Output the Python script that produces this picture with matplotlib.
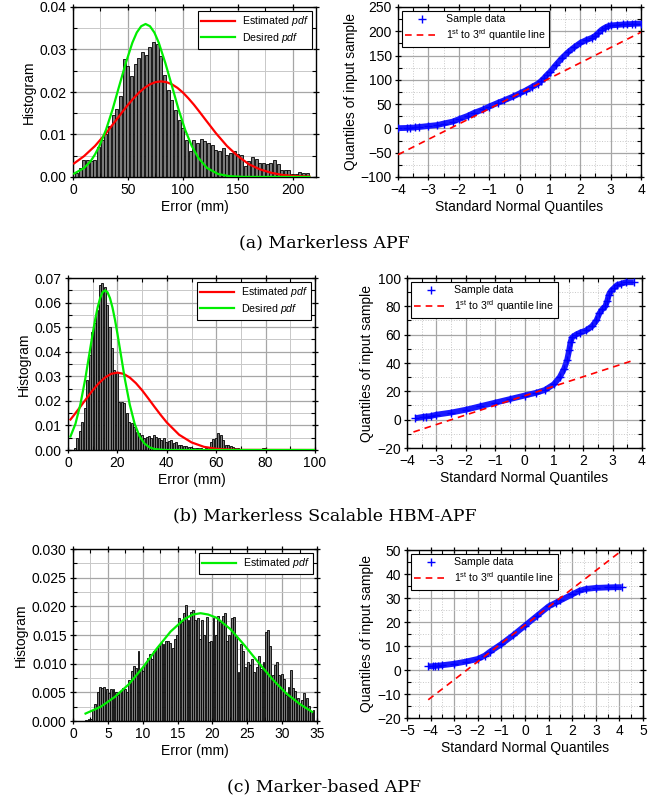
import numpy as np
import matplotlib
matplotlib.use("Agg")
import matplotlib.pyplot as plt
from matplotlib.ticker import MultipleLocator, FormatStrFormatter

plt.rcParams['font.family'] = ['Liberation Sans', 'DejaVu Sans']
plt.rcParams['mathtext.fontset'] = 'custom'
plt.rcParams['mathtext.rm'] = 'Liberation Sans'
plt.rcParams['mathtext.it'] = 'Liberation Sans:italic'

# ---------------- (a) Markerless APF ----------------
hist_a_first, hist_a_bin = 3.3, 3.33
hist_a = [0.001, 0.002, 0.004, 0.004, 0.0038, 0.0039, 0.007, 0.0087, 0.010, 0.012,
          0.0146, 0.016, 0.019, 0.0277, 0.0262, 0.0238, 0.0267, 0.0280, 0.0293, 0.0287,
          0.0306, 0.0318, 0.0314, 0.0284, 0.0240, 0.0205, 0.018, 0.0158, 0.0134, 0.0115,
          0.0087, 0.006, 0.0087, 0.008, 0.0089, 0.0084, 0.008, 0.0076, 0.0064, 0.006,
          0.0068, 0.0052, 0.0056, 0.006, 0.0055, 0.0052, 0.0025, 0.0037, 0.0048, 0.0042,
          0.0034, 0.0033, 0.003, 0.0034, 0.0039, 0.003, 0.0017, 0.0016, 0.0016, 0.0008,
          0.0006, 0.0011, 0.0009, 0.0009]

est_a_x = [1, 10, 20, 30, 40, 45, 50, 55, 60, 65, 70, 75, 80, 85, 90, 95, 100, 105,
           110, 115, 120, 130, 140, 150, 160, 170, 180, 190, 200, 215]
est_a_y = [0.0032, 0.0049, 0.0073, 0.0103, 0.01365, 0.01535, 0.0170, 0.0185, 0.01986,
           0.02097, 0.0218, 0.02232, 0.0225, 0.02232, 0.0218, 0.02097, 0.01986, 0.0185,
           0.0170, 0.01535, 0.01365, 0.0103, 0.0073, 0.0049, 0.0030, 0.0018, 0.0010,
           0.0005, 0.00025, 0.0001]
des_a_x = [1, 10, 16, 20, 24, 30, 36, 42, 48, 54, 58, 62, 66, 70, 74, 78, 84, 90, 96,
           102, 108, 114, 122, 132, 142, 155, 215]
des_a_y = [0.0008, 0.0021, 0.0037, 0.0053, 0.0073, 0.0111, 0.0159, 0.0214, 0.0268,
           0.0316, 0.0340, 0.03548, 0.036, 0.03548, 0.0340, 0.0316, 0.0268, 0.0214,
           0.0159, 0.0111, 0.0073, 0.0045, 0.0021, 0.0007, 0.0002, 0.00003, 0.0]

qq_a_x = [-4.0, -3.72, -3.6, -3.45, -3.3, -3.0, -2.7, -2.5, -2.2, -2.0, -1.7, -1.5, -1.2,
          -1.0, -0.7, -0.5, -0.2, 0.0, 0.2, 0.4, 0.6, 0.7, 0.8, 0.9, 1.0, 1.2, 1.4, 1.6,
          1.8, 2.0, 2.2, 2.4, 2.5, 2.6, 2.7, 2.8, 2.9, 3.0, 3.2, 3.4, 3.55, 3.7, 3.8, 4.0]
qq_a_y = [0.5, 1, 1.5, 2, 3, 5, 7, 10, 14, 19, 26, 32, 39, 45, 53, 58, 66, 72, 78, 85,
          92, 97, 103, 110, 116, 131, 145, 157, 167, 176, 182, 187, 191, 197, 203, 207,
          210, 212, 213, 214, 214.5, 215, 215.5, 216]
qline_a_x = [-4, 4]
qline_a_y = [-54, 198]

# ---------------- (b) Markerless Scalable HBM-APF ----------------
hist_b_first, hist_b_bin = 2.8, 1.0
hist_b = [0.0007, 0.0047, 0.0079, 0.0115, 0.017, 0.0285, 0.0387, 0.048, 0.0515, 0.057,
          0.0671, 0.0678, 0.0665, 0.059, 0.050, 0.0414, 0.0326, 0.0319, 0.0197, 0.0197,
          0.019, 0.0149, 0.0115, 0.011, 0.0095, 0.0075, 0.0068, 0.0061, 0.0048, 0.0054,
          0.0057, 0.0048, 0.0061, 0.0054, 0.0047, 0.004, 0.0047, 0.0033, 0.0035, 0.004,
          0.0028, 0.0033, 0.0022, 0.002, 0.0015, 0.0018, 0.0012, 0.0013, 0.001, 0.0008,
          0.001, 0.0007, 0.0006, 0.0008, 0.0012, 0.0034, 0.0043, 0.005, 0.0068, 0.006,
          0.004, 0.002, 0.002, 0.0015, 0.0012, 0.001, 0.0007, 0.0004, 0.0004, 0.0003,
          0.0004, 0.0003, 0.0005, 0.0004, 0.0003, 0.0005, 0.0008, 0.0008, 0.0004, 0.0002,
          0.0002, 0.0001, 0.0002, 0.0001, 0.0001, 0.0002, 0.0001, 0.0001, 0.0002, 0.0001,
          0.0001, 0.0003, 0.0004, 0.0002, 0.0003, 0.0003]

est_b_x = [1, 2.5, 5, 7.5, 10, 12.5, 15, 17.5, 20, 22.5, 25, 27.5, 30, 32.5, 35, 37.5,
           40, 45, 50, 55, 60, 65, 70, 100]
est_b_y = [0.0124, 0.0143, 0.0176, 0.0210, 0.0243, 0.0272, 0.0295, 0.0310, 0.0315,
           0.0310, 0.0295, 0.0272, 0.0243, 0.0210, 0.0176, 0.0143, 0.0112, 0.0062,
           0.0031, 0.0013, 0.0005, 0.0002, 0.00005, 0.0]
des_b_x = [1, 3, 5, 7, 9, 10, 11, 12, 13, 14, 15, 16, 17, 18, 19, 20, 21, 23, 25, 27,
           29, 31, 33, 35, 38, 40, 100]
des_b_y = [0.0055, 0.0106, 0.0185, 0.029, 0.0413, 0.0474, 0.0531, 0.058, 0.0618, 0.0642,
           0.065, 0.0642, 0.0618, 0.058, 0.0531, 0.0474, 0.0413, 0.029, 0.0185, 0.0106,
           0.0055, 0.0026, 0.0011, 0.0004, 0.0001, 0.0, 0.0]

qq_b_x = [-3.72, -3.45, -3.35, -3.2, -3.0, -2.5, -2.0, -1.5, -1.0, -0.5, 0.0, 0.4, 0.7,
          1.0, 1.2, 1.35, 1.45, 1.52, 1.57, 1.62, 1.75, 1.9, 2.1, 2.3, 2.45, 2.55, 2.65,
          2.75, 2.82, 2.87, 2.95, 3.05, 3.15, 3.3, 3.45, 3.72]
qq_b_y = [1, 2, 2.2, 2.5, 3.5, 5, 7, 9.5, 12, 14.5, 17, 19, 21, 25, 30, 36, 42, 49, 55,
          58, 60, 61.5, 63, 66, 70, 75, 78, 80, 84, 88, 91, 93, 95, 96, 97, 97]
qline_b_x = [-3.78, 3.64]
qline_b_y = [-8.7, 41.4]

# ---------------- (c) Marker-based APF ----------------
hist_c_first, hist_c_bin = 1.9, 0.326
hist_c = [0.0002, 0.0003, 0.0004, 0.002, 0.003, 0.0051, 0.0059, 0.0057, 0.0059, 0.0055,
          0.0049, 0.0055, 0.0055, 0.0051, 0.0046, 0.0051, 0.0057, 0.0055, 0.0051, 0.0071,
          0.0088, 0.0096, 0.0093, 0.0122, 0.009, 0.0088, 0.0099, 0.011, 0.0117, 0.0108,
          0.0122, 0.0128, 0.013, 0.0136, 0.0134, 0.014, 0.014, 0.0136, 0.0128, 0.0143,
          0.015, 0.018, 0.0173, 0.0188, 0.0202, 0.0176, 0.019, 0.0193, 0.0177, 0.0179,
          0.0143, 0.0177, 0.015, 0.0182, 0.0138, 0.014, 0.0179, 0.015, 0.0183, 0.0173,
          0.0184, 0.0188, 0.014, 0.015, 0.0179, 0.0182, 0.0147, 0.0085, 0.0134, 0.0122,
          0.0095, 0.0103, 0.0097, 0.0108, 0.0085, 0.0094, 0.0113, 0.0091, 0.0103, 0.0155,
          0.0158, 0.0131, 0.008, 0.0097, 0.0103, 0.008, 0.0082, 0.0074, 0.0045, 0.006,
          0.0089, 0.0058, 0.0052, 0.004, 0.0029, 0.0037, 0.0049, 0.004, 0.0027, 0.0017,
          0.002]

est_c_x = [1.8, 4, 6, 8, 10, 12, 14, 16, 17.2, 18.3, 19.4, 20.6, 22.6, 24.6, 26.6, 28.6,
           30.6, 32.6, 34.3]
est_c_y = [0.0013, 0.0025, 0.0042, 0.0064, 0.0093, 0.0126, 0.0156, 0.0178, 0.01857,
           0.0188, 0.01857, 0.0180, 0.0160, 0.0132, 0.0102, 0.0073, 0.0048, 0.0029, 0.0016]

qq_c_x = [-4.1, -3.9, -3.8, -3.7, -3.5, -3.0, -2.5, -2.0, -1.7, -1.5, -1.0, -0.5, 0.0,
          0.5, 1.0, 1.3, 1.5, 2.0, 2.3, 2.6, 3.0, 3.5, 3.8, 4.1]
qq_c_y = [1.5, 1.6, 1.7, 1.8, 2.0, 2.6, 3.5, 4.6, 6, 7.5, 10.8, 14.5, 18.5, 22.5, 26.5,
          28, 29, 31.5, 33, 33.8, 34.2, 34.4, 34.5, 34.5]
qline_c_x = [-4.1, 4.0]
qline_c_y = [-12.4, 49]

W, H = 649, 805
fig = plt.figure(figsize=(W / 100, H / 100), dpi=100)


def rect(l, t, r, b):
    return [l / W, 1 - b / H, (r - l) / W, (b - t) / H]


def style(ax, xmaj, xmin, ymaj, ymin, minor_ls):
    ax.xaxis.set_major_locator(MultipleLocator(xmaj))
    ax.xaxis.set_minor_locator(MultipleLocator(xmin))
    ax.yaxis.set_major_locator(MultipleLocator(ymaj))
    ax.yaxis.set_minor_locator(MultipleLocator(ymin))
    ax.grid(which='major', color='#a6a6a6', lw=0.9, zorder=0)
    ax.grid(which='minor', color='#c8c8c8', lw=0.7, ls=minor_ls, zorder=0)
    ax.set_axisbelow(True)
    ax.tick_params(which='major', direction='inout', length=5, width=0.9,
                   top=True, right=True, labelsize=10, pad=2)
    ax.tick_params(which='minor', direction='in', length=3, width=0.8,
                   top=True, right=True)
    for s in ax.spines.values():
        s.set_linewidth(1.0)


def legend(ax, loc, hl):
    lg = ax.legend(loc=loc, fontsize=7.6, fancybox=False, edgecolor='black',
                   framealpha=1, borderpad=0.35, labelspacing=0.25,
                   handlelength=hl, handletextpad=0.6, borderaxespad=0.35)
    lg.get_frame().set_linewidth(0.8)


def hist_panel(box, first, step, heights, curves, xlim, ylim, ticks, yfmt):
    ax = fig.add_axes(rect(*box))
    centers = first + step * np.arange(len(heights))
    ax.bar(centers, heights, width=step * 0.82, color='#7a7a7a',
           edgecolor='black', linewidth=0.6, zorder=2)
    for x, y, c, lab in curves:
        ax.plot(x, y, color=c, lw=1.6, label=lab, zorder=3)
    ax.set_xlim(*xlim)
    ax.set_ylim(*ylim)
    style(ax, *ticks, '-')
    ax.yaxis.set_major_formatter(FormatStrFormatter(yfmt))
    ax.set_xlabel('Error (mm)', fontsize=10, labelpad=2)
    ax.set_ylabel('Histogram', fontsize=10, labelpad=3)
    legend(ax, 'upper right', 3.2)
    return ax


def qq_panel(box, qx, qy, lx, ly, xlim, ylim, ticks):
    ax = fig.add_axes(rect(*box))
    ax.plot(qx, qy, color='#1a1aff', lw=4.2, solid_capstyle='butt', zorder=3)
    ax.plot(qx, qy, ls='none', marker='+', ms=6, mew=1.0, color='#0000ff',
            label='Sample data', zorder=4)
    ax.plot(lx, ly, color='red', lw=1.2, ls=(0, (4, 3)), zorder=5,
            label='1$^{\\rm st}$ to 3$^{\\rm rd}$ quantile line')
    ax.set_xlim(*xlim)
    ax.set_ylim(*ylim)
    style(ax, *ticks, ':')
    ax.set_xlabel('Standard Normal Quantiles', fontsize=10, labelpad=2)
    ax.set_ylabel('Quantiles of input sample', fontsize=10, labelpad=2)
    legend(ax, 'upper left', 3.2)
    return ax


est_lab = 'Estimated $\\mathit{pdf}$'
des_lab = 'Desired $\\mathit{pdf}$'

hist_panel((73, 7, 316, 177), hist_a_first, hist_a_bin, hist_a,
           [(est_a_x, est_a_y, '#ff0000', est_lab), (des_a_x, des_a_y, '#00ee00', des_lab)],
           (0, 221), (0, 0.04), (50, 25, 0.01, 0.005), '%.2f')
qq_panel((398, 7, 641, 177), qq_a_x, qq_a_y, qline_a_x, qline_a_y,
         (-4, 4), (-100, 250), (1, 0.5, 50, 25))

hist_panel((68, 278, 315, 450), hist_b_first, hist_b_bin, hist_b,
           [(est_b_x, est_b_y, '#ff0000', est_lab), (des_b_x, des_b_y, '#00ee00', des_lab)],
           (0, 100), (0, 0.07), (20, 10, 0.01, 0.005), '%.2f')
qq_panel((407, 278, 642, 448), qq_b_x, qq_b_y, qline_b_x, qline_b_y,
         (-4, 4), (-20, 100), (1, 0.5, 20, 10))

hist_panel((73, 549, 317, 721), hist_c_first, hist_c_bin, hist_c,
           [(est_c_x, est_c_y, '#00ee00', est_lab)],
           (0, 35), (0, 0.03), (5, 2.5, 0.005, 0.0025), '%.3f')
qq_panel((407, 550, 643, 718), qq_c_x, qq_c_y, qline_c_x, qline_c_y,
         (-5, 5), (-20, 50), (1, 0.5, 10, 5))

captions = ['(a) Markerless APF', '(b) Markerless Scalable HBM-APF', '(c) Marker-based APF']
cap_y = [243, 516, 787]
for txt, y in zip(captions, cap_y):
    fig.text(0.5, 1 - y / H, txt, ha='center', va='center',
             family='DejaVu Serif', fontsize=12.5)

fig.savefig('out.png', dpi=100)
